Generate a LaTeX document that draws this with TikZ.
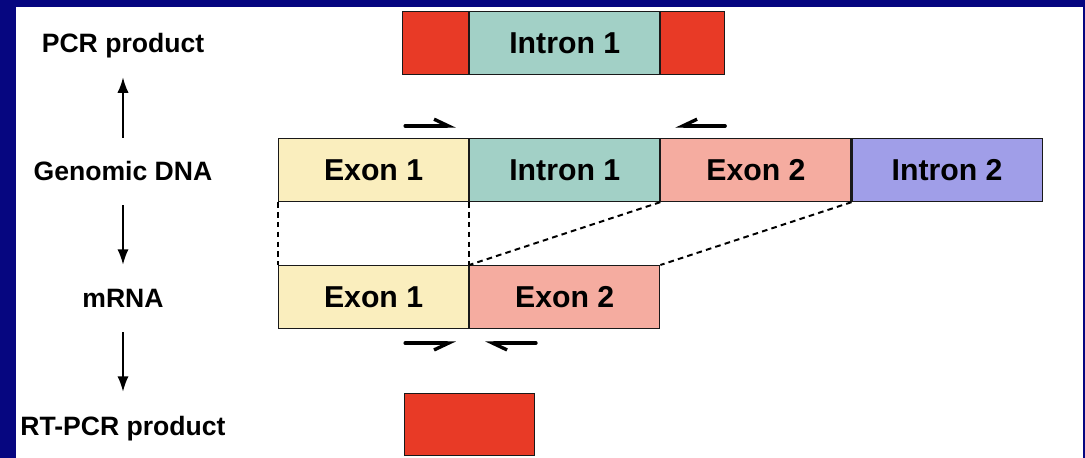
\documentclass[tikz,border=0pt]{standalone}
\usepackage{fontspec}
\setmainfont{Liberation Sans}
\usepackage{tikz}
\usetikzlibrary{arrows.meta}
\usetikzlibrary{positioning}
\definecolor{frameblue}{RGB}{6,6,128}
\definecolor{exonA}{RGB}{250,238,190}
\definecolor{intronA}{RGB}{162,208,198}
\definecolor{exonB}{RGB}{245,172,160}
\definecolor{intronB}{RGB}{160,158,232}
\definecolor{prodred}{RGB}{232,58,38}
\newcommand\segfont{\fontsize{21.5}{24}\selectfont\bfseries}
\newcommand\stagefont{\fontsize{18.9}{22}\selectfont\bfseries}
\tikzstyle{seg}=[draw=black!90,line width=.8pt,minimum height=1.575cm,minimum width=4.75cm,inner sep=0pt,font=\segfont]
\tikzstyle{exA}=[seg,fill=exonA]
\tikzstyle{inA}=[seg,fill=intronA]
\tikzstyle{exB}=[seg,fill=exonB]
\tikzstyle{inB}=[seg,fill=intronB]
\tikzstyle{prod}=[seg,fill=prodred]
\tikzstyle{stage}=[font=\stagefont,inner sep=0pt,text height=13.5pt,text depth=0pt,anchor=base]
\tikzstyle{flow}=[line width=1.3pt,-{Latex[length=11pt,width=8pt]},shorten <=.6cm,shorten >=.6cm]
\tikzstyle{primer}=[line width=2.4pt,line cap=round]
\tikzstyle{barbup}=[primer,-{Straight Barb[left,length=.36cm,width=.34cm]}]
\tikzstyle{barbdown}=[primer,-{Straight Barb[right,length=.36cm,width=.34cm]}]
\tikzstyle{splice}=[line width=1.4pt,dash pattern=on 4pt off 3pt]

\begin{document}
\begin{tikzpicture}[x=0.025cm,y=-0.025cm]
	\fill[frameblue] (0,0) rectangle (1085,458);
	\fill[white] (16,7) rectangle (1083,458);

	\node[stage] (pcr)   at (123,53)  {PCR product};
	\node[stage] (gdna)  at (123,181) {Genomic DNA};
	\node[stage] (mrna)  at (123,308) {mRNA};
	\node[stage] (rtpcr) at (123,435) {RT-PCR product};
	\draw[flow] (gdna) -- (pcr);
	\draw[flow] (gdna) -- (mrna);
	\draw[flow] (mrna) -- (rtpcr);

	\node[exA,anchor=north west] (ge1) at (278,138) {Exon 1};
	\node[inA,right=0pt of ge1] (gi1) {Intron 1};
	\node[exB,right=0pt of gi1] (ge2) {Exon 2};
	\node[inB,right=0pt of ge2] (gi2) {Intron 2};

	\node[exA,anchor=north west] (me1) at (278,265) {Exon 1};
	\node[exB,right=0pt of me1] (me2) {Exon 2};

	\node[inA,above=1.575cm of gi1] (pi1) {Intron 1};
	\node[prod,minimum width=1.65cm,left=0pt of pi1] (pl) {};
	\node[prod,minimum width=1.6cm,right=0pt of pi1] (pr) {};
	\node[prod,minimum width=3.25cm,minimum height=1.55cm,below=1.6cm of me1.south east] (rt) {};

	\coordinate (gf0) at ([xshift=-1.6cm,yshift=.3cm]ge1.north east);
	\coordinate (gf1) at ([xshift=-.33cm,yshift=.3cm]ge1.north east);
	\coordinate (gr0) at ([xshift=1.62cm,yshift=.3cm]gi1.north east);
	\coordinate (gr1) at ([xshift=.37cm,yshift=.3cm]gi1.north east);
	\coordinate (mf0) at ([xshift=-1.6cm,yshift=-.35cm]me1.south east);
	\coordinate (mf1) at ([xshift=-.33cm,yshift=-.35cm]me1.south east);
	\coordinate (mr0) at ([xshift=1.67cm,yshift=-.35cm]me2.south west);
	\coordinate (mr1) at ([xshift=.4cm,yshift=-.35cm]me2.south west);
	\draw[barbup]   (gf0) -- (gf1);
	\draw[barbdown] (gr0) -- (gr1);
	\draw[barbdown] (mf0) -- (mf1);
	\draw[barbup]   (mr0) -- (mr1);

	\draw[splice] (ge1.south west) -- (me1.north west);
	\draw[splice] (ge1.south east) -- (me1.north east);
	\draw[splice] (gi1.south east) -- (me2.north west);
	\draw[splice] (ge2.south east) -- (me2.north east);
\end{tikzpicture}
\end{document}
